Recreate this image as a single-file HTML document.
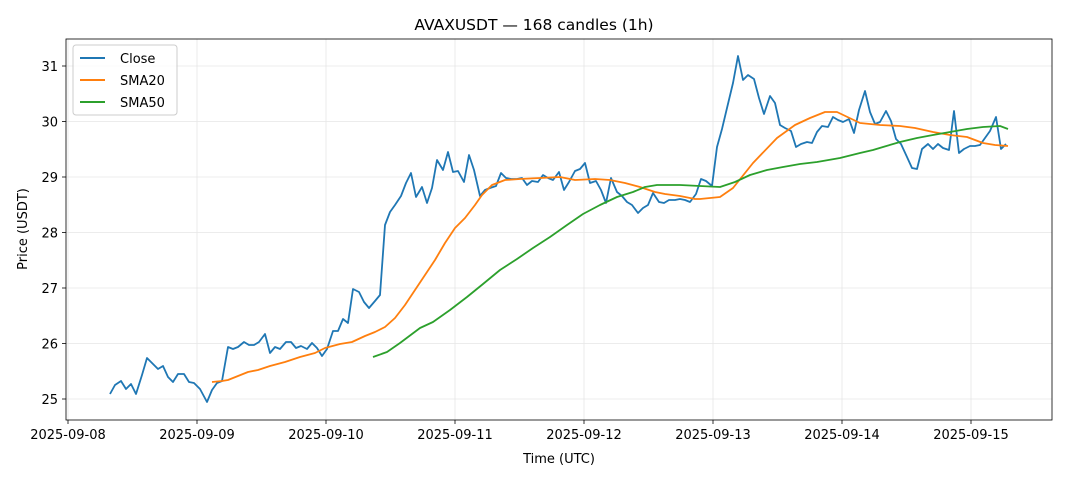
<!DOCTYPE html>
<html><head><meta charset="utf-8"><style>body{margin:0;background:#fff}svg{display:block}text{font-family:"DejaVu Sans","Liberation Sans",sans-serif;fill:#000}</style></head><body>
<svg width="1068" height="481" viewBox="0 0 1068 481" xmlns="http://www.w3.org/2000/svg">
<rect width="1068" height="481" fill="#fff"/>
<g stroke="#e6e6e6" stroke-width="0.8">
<line x1="68" y1="39" x2="68" y2="420"/><line x1="197" y1="39" x2="197" y2="420"/><line x1="326" y1="39" x2="326" y2="420"/><line x1="455" y1="39" x2="455" y2="420"/><line x1="584" y1="39" x2="584" y2="420"/><line x1="713" y1="39" x2="713" y2="420"/><line x1="842" y1="39" x2="842" y2="420"/><line x1="971" y1="39" x2="971" y2="420"/>
<line x1="66" y1="399" x2="1052" y2="399"/><line x1="66" y1="343.5" x2="1052" y2="343.5"/><line x1="66" y1="288" x2="1052" y2="288"/><line x1="66" y1="232.5" x2="1052" y2="232.5"/><line x1="66" y1="177" x2="1052" y2="177"/><line x1="66" y1="121.5" x2="1052" y2="121.5"/><line x1="66" y1="66" x2="1052" y2="66"/>
</g>
<g fill="none" stroke-width="1.8" stroke-linejoin="round">
<polyline stroke="#1f77b4" points="110,394 115,385 121,381 126,389 131,384 136,394 142,375 147,358 152,363 158,369 163,366 168,377 173,382 178,374 184,374 189,382 194,383 200,389 207,402 212,390 217,383 222,381 228,347 233,349 238,347 244,342 249,345 254,345 259,342 265,334 270,353 275,347 280,349 286,342 291,342 296,348 301,346 307,349 312,343 317,348 322,356 327,349 333,331 338,331 343,319 348,323 353,289 359,292 364,302 369,308 375,301 380,295 385,225 390,212 395,205 401,196 406,183 411,173 416,197 422,187 427,203 432,188 437,160 443,170 448,152 453,172 458,171 464,182 469,155 474,170 480,196 485,190 490,188 496,186 501,173 506,178 511,179 517,179 522,178 527,185 532,181 538,182 543,175 548,178 553,180 559,172 564,190 569,182 575,171 580,169 585,163 590,183 596,181 601,190 606,203 611,178 617,192 622,196 627,202 632,205 638,213 643,208 648,205 653,193 659,202 664,203 669,200 675,200 680,199 685,200 690,202 696,194 701,179 706,181 712,186 717,147 722,129 727,108 733,83 738,56 743,80 748,75 754,79 759,98 764,114 770,96 775,103 780,125 785,128 791,131 796,147 801,144 807,142 812,143 817,132 822,126 828,127 833,117 838,120 843,122 849,119 854,133 859,110 865,91 870,112 875,124 880,122 886,111 891,121 896,139 901,144 907,157 912,168 917,169 922,149 928,144 933,149 938,144 943,148 949,150 954,111 959,153 964,149 970,146 975,146 980,145 985,138 990,131 996,117 1001,149 1006,144"/>
<polyline stroke="#ff7f0e" points="212,382 222,381 228,380 238,376 248,372 258,370 270,366 285,362 300,357 315,353 325,348 340,344 352,342 365,336 375,332 385,327 395,318 405,305 415,290 425,275 435,260 445,243 455,228 465,218 475,205 482,195 492,185 505,180 520,179 540,178 560,177 575,180 595,179 610,180 625,183 640,187 655,192 665,194 680,196 695,199 700,199 720,197 733,188 753,163 777,138 795,125 810,118 825,112 837,112 860,123 880,125 900,126 915,128 933,132 950,135 967,137 983,143 995,145 1008,146"/>
<polyline stroke="#2ca02c" points="373,357 387,352 400,343 420,328 433,322 450,310 467,297 483,284 500,270 517,259 533,248 550,237 567,225 583,214 600,205 617,197 633,192 645,187 657,185 680,185 700,186 720,187 735,182 750,175 767,170 783,167 800,164 817,162 840,158 860,153 873,150 883,147 900,142 917,138 933,135 950,132 967,129 983,127 1000,126 1008,129"/>
</g>
<rect x="66" y="39" width="986" height="381" fill="none" stroke="#000" stroke-width="0.8"/>
<g stroke="#000" stroke-width="0.8">
<line x1="68" y1="420" x2="68" y2="424"/><line x1="197" y1="420" x2="197" y2="424"/><line x1="326" y1="420" x2="326" y2="424"/><line x1="455" y1="420" x2="455" y2="424"/><line x1="584" y1="420" x2="584" y2="424"/><line x1="713" y1="420" x2="713" y2="424"/><line x1="842" y1="420" x2="842" y2="424"/><line x1="971" y1="420" x2="971" y2="424"/>
<line x1="62" y1="399" x2="66" y2="399"/><line x1="62" y1="343.5" x2="66" y2="343.5"/><line x1="62" y1="288" x2="66" y2="288"/><line x1="62" y1="232.5" x2="66" y2="232.5"/><line x1="62" y1="177" x2="66" y2="177"/><line x1="62" y1="121.5" x2="66" y2="121.5"/><line x1="62" y1="66" x2="66" y2="66"/>
</g>
<g font-size="13" text-anchor="middle">
<text x="68" y="439">2025-09-08</text><text x="197" y="439">2025-09-09</text><text x="326" y="439">2025-09-10</text><text x="455" y="439">2025-09-11</text><text x="584" y="439">2025-09-12</text><text x="713" y="439">2025-09-13</text><text x="842" y="439">2025-09-14</text><text x="971" y="439">2025-09-15</text>
<text x="559" y="463">Time (UTC)</text>
<text x="534" y="30" font-size="15.5">AVAXUSDT — 168 candles (1h)</text>
<text x="27" y="229" transform="rotate(-90 27 229)">Price (USDT)</text>
</g>
<g font-size="13" text-anchor="end">
<text x="58" y="404">25</text><text x="58" y="348.5">26</text><text x="58" y="293">27</text><text x="58" y="237.5">28</text><text x="58" y="182">29</text><text x="58" y="126.5">30</text><text x="58" y="71">31</text>
</g>
<rect x="73" y="45" width="104" height="70" rx="3" fill="#fff" fill-opacity="0.8" stroke="#ccc"/>
<line x1="80" y1="58" x2="105" y2="58" stroke="#1f77b4" stroke-width="2"/>
<line x1="80" y1="80" x2="105" y2="80" stroke="#ff7f0e" stroke-width="2"/>
<line x1="80" y1="102" x2="105" y2="102" stroke="#2ca02c" stroke-width="2"/>
<g font-size="13"><text x="120" y="63">Close</text><text x="120" y="85">SMA20</text><text x="120" y="107">SMA50</text></g>
</svg>
</body></html>
